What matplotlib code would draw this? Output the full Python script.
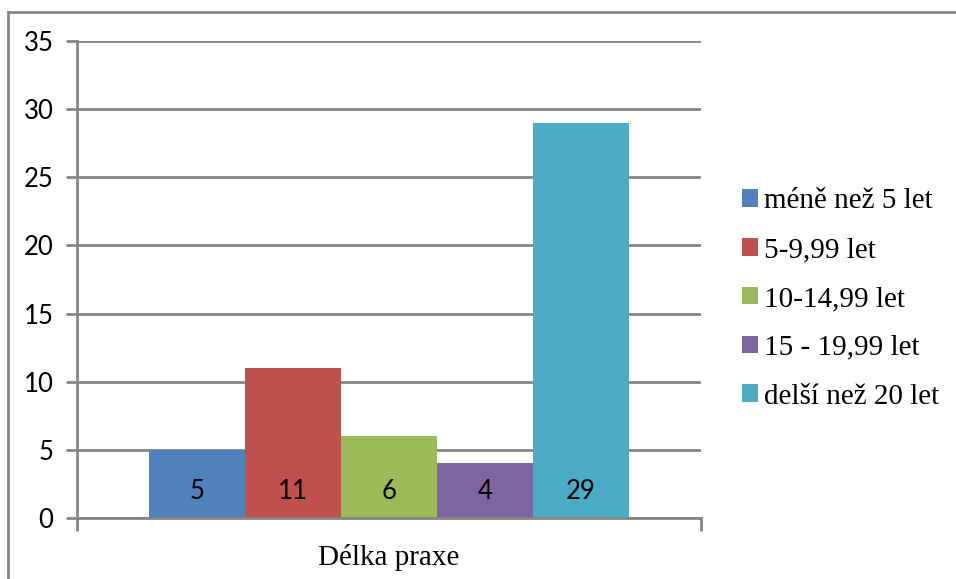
import matplotlib.pyplot as plt
from matplotlib.patches import Patch
from matplotlib.lines import Line2D

# ------------------------------
# Data
# ------------------------------
categories = ["méně než 5 let", "5-9,99 let", "10-14,99 let", "15 - 19,99 let", "delší než 20 let"]
counts = [5, 11, 6, 4, 29]
colors = ["#4F81BD", "#C0504D", "#9BBB59", "#8064A2", "#4BACC6"]
y_ticks = [0, 5, 10, 15, 20, 25, 30, 35]
x_title = "Délka praxe"

W, H = 956, 579
grey = "#868686"

fig = plt.figure(figsize=(W / 100, H / 100), dpi=100)
ax = fig.add_axes([77 / W, (H - 518) / H, 624 / W, 477 / H])

# Excel-like clustered bars: gap width 150%
n = len(counts)
bar_w = 1.0 / (n + 1.5)
gap = 0.75 * bar_w
for i, (v, c) in enumerate(zip(counts, colors)):
    left = gap + i * bar_w
    ax.bar(left, v, width=bar_w, align="edge", color=c, zorder=3)
    ax.annotate(str(v), (left + bar_w / 2, 0), xytext=(0, 19), textcoords="offset points",
                ha="center", va="center", fontsize=18.5, family="Lato", zorder=4)

ax.set_xlim(0, 1)
ax.set_ylim(0, 35)
ax.set_yticks(y_ticks)
ax.set_yticklabels([str(t) for t in y_ticks], fontsize=18.5, family="Lato")
ax.set_xticks([0, 1])
ax.set_xticklabels(["", ""])
ax.tick_params(axis="y", length=8, width=2, color=grey, pad=9)
ax.tick_params(axis="x", length=9, width=2, color=grey)
ax.grid(axis="y", color=grey, linewidth=2, zorder=1)
ax.set_axisbelow(True)

for s in ["top", "right"]:
    ax.spines[s].set_visible(False)
for s in ["left", "bottom"]:
    ax.spines[s].set_color(grey)
    ax.spines[s].set_linewidth(2)
    ax.spines[s].set_zorder(5)

ax.set_xlabel(x_title, fontsize=21, family="Liberation Serif", labelpad=6)

handles = [Patch(facecolor=c, edgecolor="none") for c in colors]
fig.legend(handles, categories, loc="center left", bbox_to_anchor=(742 / W, 1 - 299 / H),
           frameon=False, prop={"family": "Liberation Serif", "size": 21},
           handlelength=0.55, handleheight=0.55, handletextpad=0.2, labelspacing=0.78,
           borderaxespad=0, borderpad=0)

# outer chart border (clipped on right/bottom like the source)
fig.add_artist(Line2D([8 / W, 1], [1 - 12 / H, 1 - 12 / H], color=grey, linewidth=2,
                      transform=fig.transFigure))
fig.add_artist(Line2D([8 / W, 8 / W], [0, 1 - 12 / H], color=grey, linewidth=2,
                      transform=fig.transFigure))

fig.savefig("out.png", dpi=100)
